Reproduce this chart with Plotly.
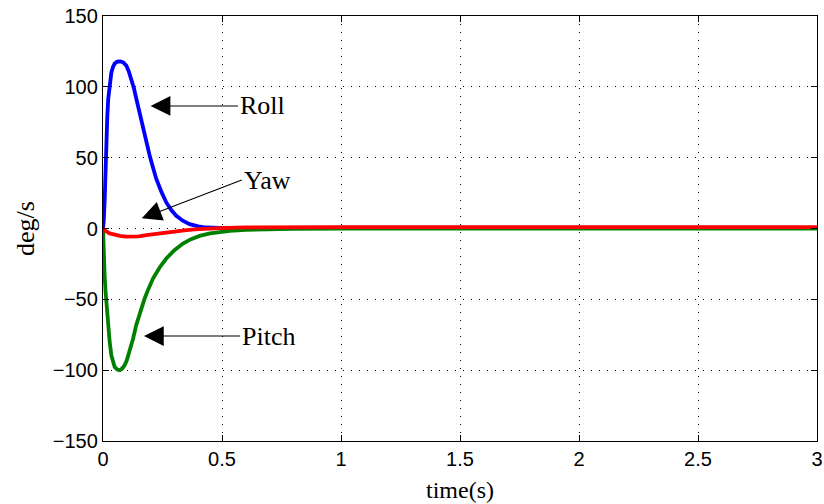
import plotly.graph_objects as go

# ---- data ----
time_roll = [0, 0.003, 0.007, 0.010, 0.014, 0.018, 0.022, 0.028, 0.035, 0.042, 0.049, 0.060, 0.073, 0.085,
             0.098, 0.108, 0.119, 0.130, 0.140, 0.154, 0.168, 0.182, 0.196, 0.210, 0.224, 0.245, 0.266,
             0.287, 0.308, 0.335, 0.364, 0.40, 0.434, 0.49, 0.6, 0.8, 1.0, 1.5, 2.0, 2.5, 3.0]
roll = [0, 5, 20, 42, 63, 79, 91.6, 102, 110, 114, 116.4, 117.8, 118, 117.2,
        115, 111, 105.8, 99, 91.6, 81, 70.4, 61, 51.5, 43, 35, 26, 18.4,
        13, 9, 5.5, 3.1, 1.5, 0.7, 0.5, 0.5, 0.5, 0.5, 0.5, 0.5, 0.5, 0.5]

time_pitch = [0, 0.003, 0.007, 0.011, 0.016, 0.021, 0.028, 0.035, 0.042, 0.049, 0.060, 0.070, 0.080, 0.091,
              0.100, 0.112, 0.126, 0.140, 0.157, 0.175, 0.19, 0.210, 0.238, 0.266, 0.30, 0.336, 0.37,
              0.406, 0.45, 0.49, 0.55, 0.6, 0.7, 0.8, 1.0, 1.5, 2.0, 2.5, 3.0]
pitch = [0, -21, -34, -45, -57, -68, -80, -89.5, -95, -97.7, -99.6, -100, -99, -96.5,
         -93, -87, -78, -68, -58.5, -49.4, -43, -35.3, -27.5, -21.2, -15.3, -10.6, -7.5,
         -5.2, -3.5, -2.4, -1.4, -0.9, -0.5, -0.3, -0.1, 0, 0, 0, 0]

time_yaw = [0, 0.01, 0.028, 0.05, 0.07, 0.095, 0.119, 0.15, 0.182, 0.22, 0.266, 0.31, 0.35, 0.40,
            0.448, 0.52, 0.6, 0.7, 1.0, 1.5, 2.0, 2.5, 3.0]
yaw = [0, -1.6, -3.5, -4.6, -5.2, -5.7, -5.9, -5.5, -4.7, -3.8, -2.8, -1.9, -1.2, -0.5,
       0, 0.5, 0.75, 0.9, 1.0, 1.0, 1.0, 1.0, 1.0]

x_ticks = [0, 0.5, 1, 1.5, 2, 2.5, 3]
x_tick_labels = ["0", "0.5", "1", "1.5", "2", "2.5", "3"]
y_ticks = [-150, -100, -50, 0, 50, 100, 150]

# annotation positions (arrow head -> label tail), data coordinates
labels = ["Roll", "Yaw", "Pitch"]
head_t = [0.200, 0.163, 0.172]
head_v = [86.5, 7.2, -75.9]
tail_t = [0.567, 0.583, 0.576]
tail_v = [86.5, 34.2, -75.9]

fig = go.Figure()
for t, v, c in [(time_roll, roll, "#0000ff"), (time_pitch, pitch, "#008000"), (time_yaw, yaw, "#ff0000")]:
    fig.add_trace(go.Scatter(x=t, y=v, mode="lines",
                             line=dict(color=c, width=3.8),
                             showlegend=False))

for lab, hx, hy, tx, ty in zip(labels, head_t, head_v, tail_t, tail_v):
    fig.add_annotation(x=hx, y=hy, ax=tx, ay=ty, xref="x", yref="y", axref="x", ayref="y",
                       text=lab, showarrow=True, arrowhead=2, arrowsize=3.6, arrowwidth=1.1,
                       arrowcolor="black", xanchor="left", yanchor="middle", standoff=0,
                       font=dict(family="Liberation Serif", size=26, color="black"))

axis_common = dict(showline=True, linecolor="black", linewidth=1.3, mirror="ticks",
                   ticks="inside", ticklen=6, tickcolor="black",
                   showgrid=True, gridcolor="black", gridwidth=1, griddash="1px,7px",
                   zeroline=False, automargin=False,
                   tickfont=dict(family="Liberation Sans", size=20, color="black"))

fig.update_xaxes(range=[0, 3], tickvals=x_ticks, ticktext=x_tick_labels,
                 title=dict(text="time(s)", font=dict(family="Liberation Serif", size=24, color="black"),
                            standoff=12),
                 **axis_common)
fig.update_yaxes(range=[-150, 150], tickvals=y_ticks,
                 title=dict(text="deg/s", font=dict(family="Liberation Serif", size=26, color="black"),
                            standoff=10),
                 **axis_common)

fig.update_layout(width=824, height=504, margin=dict(l=103, r=7, t=16, b=63),
                  plot_bgcolor="white", paper_bgcolor="white")

fig.write_html("out.html", config={"displayModeBar": False},
               post_script="document.body.style.margin='0px';document.body.style.overflow='hidden';")
